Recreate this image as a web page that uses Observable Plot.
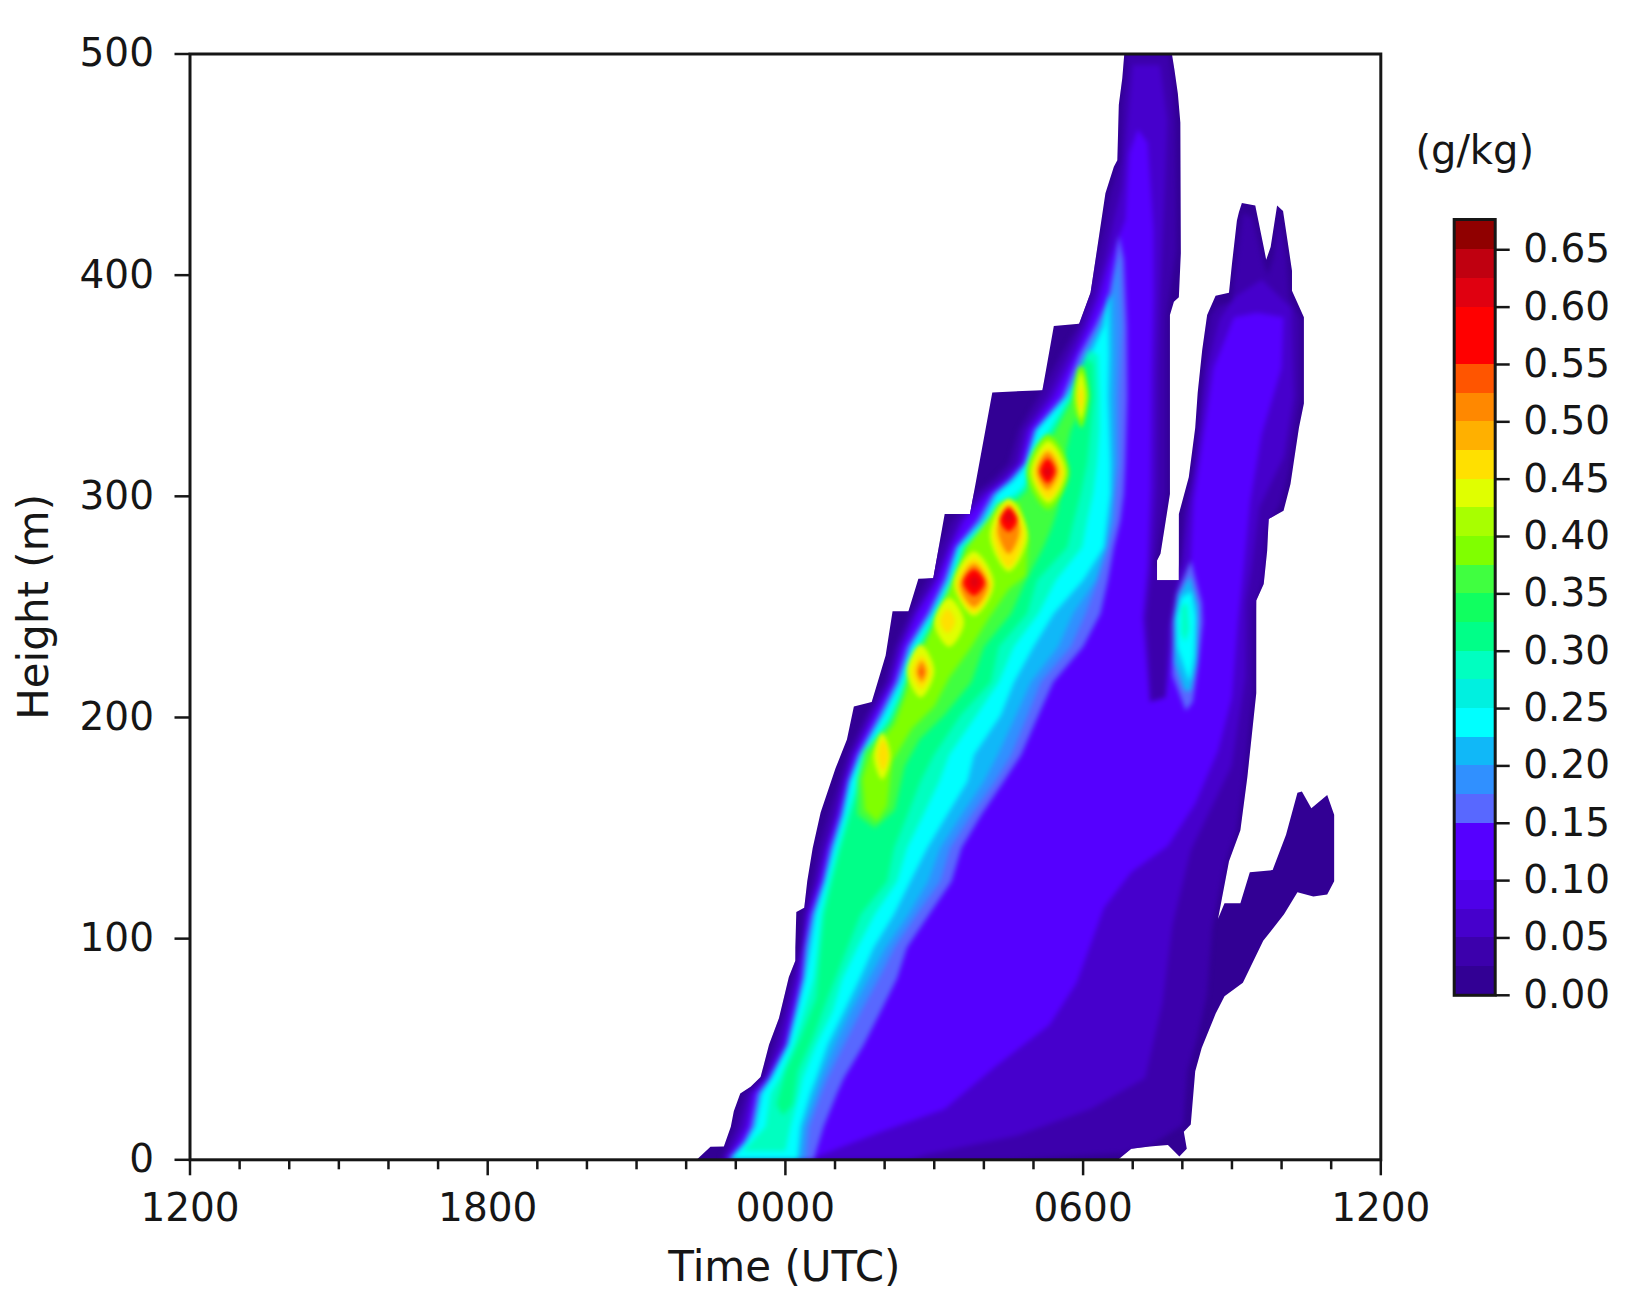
<!DOCTYPE html>
<html><head><meta charset="utf-8">
<script src="https://cdn.jsdelivr.net/npm/d3@7"></script>
<script src="https://cdn.jsdelivr.net/npm/@observablehq/plot@0.6"></script>
<style>
html,body{margin:0;padding:0;background:#fff;overflow:hidden}
#chart{position:relative;width:1637px;height:1301px}
</style></head><body><div id="chart"></div>
<script>
const xMajorTicks=[0,6,12,18,24];
const xMajorLabels=["1200","1800","0000","0600","1200"];
const xMinorTicks=[1,2,3,4,5,7,8,9,10,11,13,14,15,16,17,19,20,21,22,23];
const yTicks=[0,100,200,300,400,500];
const barTicks=[0,.05,.1,.15,.2,.25,.3,.35,.4,.45,.5,.55,.6,.65];
const levels=[0,.025,.05,.075,.1,.125,.15,.175,.2,.225,.25,.275,.3,.325,.35,.375,.4,.425,.45,.475,.5,.525,.55,.575,.6,.625,.65];
const levelColors=["#320094","#3c00ac","#4600cc","#4e00e8","#5500ff","#5500ff","#5868ff","#3090ff","#10b8f8","#00ffff","#00f0e0","#00ffc0","#00ff88","#10ff60","#40ff40","#80ff00","#a8ff00","#e0ff00","#ffe000","#ffb000","#ff8800","#ff5500","#ff0000","#ff0000","#e00010","#c00010","#900000"];

const outer=[[10.21,0],[10.49,5.9],[10.76,6],[10.9,15],[10.96,22],[11.09,30],[11.3,33],[11.5,37.4],[11.67,52],[11.87,64],[12.07,82.6],[12.2,90],[12.2,96],[12.22,112],[12.38,114],[12.44,126],[12.55,141],[12.71,157],[13.01,177],[13.24,190],[13.38,205],[13.74,207],[14.02,228],[14.16,248],[14.48,248],[14.68,262.7],[14.98,263],[15.21,292],[15.72,292],[16.17,347],[17.18,348],[17.41,377],[17.92,378],[18.15,392],[18.45,437],[18.62,449],[18.69,452],[18.72,477],[18.79,489],[18.83,500],[19.79,500],[19.84,493],[19.91,482],[19.96,469],[19.97,410],[19.93,390],[19.83,388],[19.75,382],[19.75,301],[19.56,274],[19.49,271],[19.49,262],[19.93,262],[19.93,292],[20.13,308.6],[20.26,331],[20.31,347],[20.4,366],[20.5,382],[20.67,390.7],[20.94,392],[21,405],[21.1,424.7],[21.14,428.5],[21.2,432.6],[21.47,431.5],[21.64,412.7],[21.69,407],[21.78,412.7],[21.91,431.5],[22.03,429],[22.15,411],[22.21,402],[22.21,393],[22.45,381],[22.45,342],[22.35,331],[22.24,314.6],[22.18,305.6],[22.04,293.5],[21.74,289.8],[21.71,275.5],[21.64,260.4],[21.49,252.9],[21.49,211],[21.4,192],[21.31,173],[21.17,149],[20.94,135],[20.72,109],[20.85,116],[21.17,116],[21.36,130],[21.82,131],[22.09,147],[22.32,166],[22.41,166.5],[22.6,159],[22.92,165],[23.06,156],[23.06,126],[22.92,120],[22.64,119],[22.32,121],[22.05,111],[21.63,99],[21.22,80],[20.85,74],[20.67,66],[20.39,50.6],[20.26,40],[20.17,16],[20.03,12.7],[20.09,5],[19.94,1.5],[19.71,6.7],[19.34,6],[18.97,5],[18.74,0.7],[18.7,0]];
const band025=[[10.7,0],[10.85,8],[10.98,15],[11.18,30],[11.55,37],[11.74,52],[11.95,67],[12.12,82],[12.3,96],[12.36,111],[12.54,126],[12.66,141],[12.86,156],[13.08,171],[13.24,183],[13.62,201],[14,216],[14.2,232],[14.5,247],[14.85,262],[15.1,277],[15.35,289],[15.8,301],[16.2,308],[16.5,315],[16.7,330],[17.1,345],[17.55,364],[17.9,377],[18.15,395],[18.4,420],[18.55,437],[18.75,452],[18.78,477],[18.85,489],[18.89,500],[19.73,500],[19.8,490],[19.86,470],[19.88,411],[19.68,382],[19.68,301],[19.5,274],[19.42,268],[19.98,268],[20.02,292],[20.22,310],[20.33,331],[20.38,347],[20.47,366],[20.57,382],[20.72,386],[21,388],[21.08,405],[21.22,428],[21.42,426],[21.64,405],[21.72,400],[21.84,408],[21.95,425],[22.1,408],[22.15,390],[22.38,380],[22.38,345],[22.28,331],[22.15,312],[22,298],[21.68,284],[21.62,262],[21.43,248],[21.42,211],[21.33,192],[21.25,173],[21.1,149],[20.88,135],[20.6,105],[20.5,75],[20.3,55],[20.1,40],[20.02,16],[19.4,7],[18.8,3],[16.5,0]];
const band050=[[10.75,0],[10.95,8],[11.1,15],[11.28,30],[11.58,37],[11.86,52],[12.03,67],[12.2,82],[12.33,96],[12.42,111],[12.62,126],[12.78,141],[12.99,156],[13.15,171],[13.32,183],[13.7,201],[14.08,216],[14.28,232],[14.58,247],[15,262],[15.26,277],[15.5,289],[15.95,301],[16.35,308],[16.65,315],[16.82,330],[17.28,345],[17.7,364],[18,377],[18.22,390],[18.44,407],[18.62,425],[18.78,440],[18.92,475],[19,495],[19.55,495],[19.7,470],[19.65,440],[19.55,390],[19.5,356],[19.48,304],[19.38,268],[19.27,245],[19.33,226],[19.38,200],[19.66,200],[19.69,226],[19.72,240],[19.98,270],[20.14,298],[20.33,328],[20.5,358],[20.75,380],[21.05,390],[21.6,398],[22.2,385],[22.25,345],[22.05,318],[21.55,295],[21.4,268],[21.28,252],[21.27,218],[20.99,178],[20.17,140],[19.8,106],[19.6,71],[19.25,37],[18.15,23],[16.68,11],[14.84,2.4],[14.5,0]];
const band100=[[10.8,0],[11.05,8],[11.22,15],[11.35,30],[11.62,37],[11.97,52],[12.12,67],[12.28,82],[12.36,96],[12.46,111],[12.68,126],[12.84,141],[13.05,156],[13.21,171],[13.38,183],[13.78,201],[14.15,216],[14.35,232],[14.66,247],[15.06,262],[15.33,277],[15.6,289],[16.07,301],[16.47,308],[16.74,315],[16.91,330],[17.41,345],[17.83,364],[18.1,377],[18.33,390],[18.54,407],[18.85,425],[18.93,455],[19.1,466],[19.3,460],[19.42,420],[19.42,390],[19.38,356],[19.36,304],[19.3,268],[19.2,245],[19.27,226],[19.34,207],[19.66,209],[19.75,226],[19.85,240],[20.16,268],[20.23,298],[20.43,328],[20.63,358],[21.04,381],[21.5,383],[22.04,381],[22,358],[21.6,328],[21.37,298],[21.24,268],[21.12,243],[21,209],[20.72,185],[20.26,161],[19.71,142],[18.97,130],[18.42,114],[17.87,80],[17.32,61],[16.22,42],[15.21,23],[13.93,12.7],[12.64,1.5],[12.6,0]];
const band150=[[10.84,0],[11.15,8],[11.3,15],[11.43,30],[11.67,37],[12.02,52],[12.18,67],[12.33,82],[12.39,96],[12.52,111],[12.75,126],[12.9,141],[13.11,156],[13.26,171],[13.45,183],[13.88,201],[14.22,216],[14.45,232],[14.86,247],[15.19,262],[15.43,277],[15.86,289],[16.17,301],[16.55,308],[16.81,315],[17.01,330],[17.58,345],[17.92,364],[18.24,377],[18.51,390],[18.65,407],[18.72,418],[18.82,407],[18.88,377],[18.89,345],[18.85,315],[18.82,301],[18.75,289],[18.62,277],[18.5,262],[18.35,247],[18,232],[17.4,216],[17.1,201],[16.75,183],[16.4,171],[15.95,156],[15.55,141],[15.35,126],[14.9,111],[14.45,96],[14.25,82],[13.92,67],[13.58,52],[13.18,37],[13.04,30],[12.77,15],[12.57,0]];
const band175=[[10.86,0],[11.18,8],[11.34,15],[11.47,30],[11.69,37],[12.04,52],[12.2,67],[12.36,82],[12.42,96],[12.55,111],[12.77,126],[12.93,141],[13.13,156],[13.28,171],[13.48,183],[13.92,201],[14.26,216],[14.49,232],[14.9,247],[15.23,262],[15.45,277],[15.9,289],[16.2,301],[16.5,307],[16.83,315],[17.03,330],[17.62,345],[18,364],[18.3,377],[18.55,390],[18.68,405],[18.72,410],[18.78,377],[18.72,345],[18.72,315],[18.65,301],[18.62,289],[18.5,277],[18.3,262],[18.05,247],[17.75,232],[17.15,216],[16.88,201],[16.55,183],[16.22,171],[15.75,156],[15.32,141],[15.12,126],[14.65,111],[14.2,96],[13.88,82],[13.52,67],[13.18,52],[12.85,37],[12.72,30],[12.48,15],[12.42,0]];
const band200=[[10.88,0],[11.2,8],[11.37,15],[11.5,30],[11.71,37],[12.05,52],[12.22,67],[12.38,82],[12.46,96],[12.58,111],[12.79,126],[12.95,141],[13.15,156],[13.29,171],[13.5,183],[13.95,201],[14.29,216],[14.52,232],[14.93,247],[15.26,262],[15.47,277],[15.95,289],[16.24,301],[16.55,307],[16.85,315],[17.05,330],[17.65,345],[18.08,364],[18.36,377],[18.48,388],[18.6,392],[18.62,364],[18.61,345],[18.63,315],[18.6,301],[18.55,289],[18.46,277],[18.25,262],[17.8,247],[17.5,232],[16.95,216],[16.65,201],[16.28,183],[16,171],[15.55,156],[15.12,141],[14.88,126],[14.48,111],[14.02,96],[13.68,82],[13.32,67],[13,52],[12.72,37],[12.62,30],[12.38,15],[12.3,0]];
const band225=[[10.89,0],[11.22,8],[11.4,15],[11.53,30],[11.73,37],[12.07,52],[12.24,67],[12.4,82],[12.51,96],[12.61,111],[12.81,126],[12.98,141],[13.18,156],[13.31,171],[13.52,183],[13.99,201],[14.32,216],[14.55,232],[14.96,247],[15.29,262],[15.49,277],[16,289],[16.27,301],[16.6,307],[16.87,315],[17.07,330],[17.68,345],[18.15,364],[18.42,377],[18.5,392],[18.52,364],[18.5,345],[18.55,315],[18.55,301],[18.48,289],[18.42,277],[18,262],[17.41,247],[17,232],[16.61,216],[16.34,201],[15.8,183],[15.67,171],[15.26,156],[14.86,141],[14.52,126],[14.19,111],[13.78,96],[13.5,82],[13.18,67],[12.85,52],[12.62,37],[12.5,30],[12.3,15],[12.24,0]];
const band275=[[11.15,4],[11.6,15],[11.7,30],[11.88,37],[12.17,52],[12.37,67],[12.57,82],[12.65,96],[12.72,111],[12.88,126],[13.06,141],[13.25,156],[13.45,171],[13.6,183],[14.1,201],[14.4,216],[14.65,232],[15.02,247],[15.36,262],[15.56,277],[16.08,289],[16.28,297],[16.63,301],[16.82,305],[16.93,315],[17.3,330],[17.73,345],[18.1,366],[18.3,364],[18.33,345],[18.33,330],[18.28,315],[18.2,301],[18.08,289],[17.98,277],[17.45,262],[17.1,247],[16.6,232],[16.3,216],[15.85,201],[15.3,183],[15.1,171],[14.78,156],[14.45,141],[14.25,126],[13.8,111],[13.45,96],[13.15,82],[12.95,67],[12.62,52],[12.35,37],[12.28,30],[12.1,15],[12,4]];
const band300=[[11.82,25],[12,40],[12.3,55],[12.62,73],[12.71,96],[12.78,111],[12.94,126],[13.11,141],[13.31,156],[13.52,171],[13.65,183],[14.19,201],[14.46,216],[14.72,232],[15.06,247],[15.39,262],[15.6,277],[16.13,289],[16.3,297],[16.65,299],[16.84,303],[16.97,315],[17.4,330],[17.78,345],[18.05,362],[18.2,360],[18.22,345],[18.15,330],[18.08,315],[17.95,301],[17.81,289],[17.68,277],[17.07,262],[16.87,247],[16.3,232],[16.14,216],[15.53,201],[14.99,183],[14.72,171],[14.46,156],[14.19,141],[14.05,126],[13.52,111],[13.25,96],[12.85,73],[12.55,55],[12.25,40],[12.15,25],[11.95,20]];
const band350=[[13.45,156],[13.45,172],[13.6,185],[14.1,197],[14.35,210],[14.5,222],[14.72,232],[15.1,247],[15.4,262],[15.62,277],[16.15,289],[16.35,296],[16.65,298],[16.84,302],[17,315],[17.45,330],[17.8,345],[17.9,358],[18.03,358],[18.1,345],[17.75,330],[17.6,315],[17.5,295],[17.35,285],[17.2,277],[16.85,262],[16.55,247],[16,232],[15.75,216],[15.2,201],[14.7,190],[14.4,178],[14.2,158],[13.8,150]];
const band375=[[13.6,158],[13.55,172],[13.7,183],[14.2,197],[14.42,210],[14.58,224],[14.85,235],[15.12,249],[15.42,265],[15.68,278],[16.13,291],[16.3,297],[16.7,297],[16.9,280],[16.85,264],[16.5,258],[16.1,245],[15.75,232],[15.3,218],[15,205],[14.55,195],[14.15,180],[14.05,160],[13.85,153]];
const sideBlue=[[20.07,203],[19.8,219],[19.8,243],[19.89,256],[20.17,271],[20.39,252],[20.41,243],[20.3,221],[20.21,207]];
const sideSky=[[20.05,212],[19.84,225],[19.84,245],[19.92,255],[20.15,264],[20.32,250],[20.3,225],[20.17,212]];
const sideCyan=[[20.05,222],[19.9,232],[19.88,245],[19.98,254],[20.18,257],[20.27,245],[20.24,228],[20.15,216]];
const sideCore=[[19.98,238],[19.98,250],[20.1,252],[20.14,240],[20.06,234]];

// moist peaks: level, earliest time, latest time, lowest height, highest height
const peakRings=[
[.38,16.86,17.72,294,328],[.38,17.81,18.11,331,359],
[.43,13.78,14.12,172,193],[.43,14.45,15,209,233],[.43,15,15.6,232,254],[.43,15.4,16.2,246,275],[.43,16.12,16.88,266,299],[.43,16.95,17.65,297,325],[.43,17.86,18.05,335,356],
[.46,13.86,14.08,176,190],[.46,14.55,14.92,213,228],[.46,15.12,15.42,238,249],[.46,15.45,16.15,247.5,272],[.46,16.2,16.8,268,297],[.46,17,17.6,299,322],[.46,17.9,18,339,350],
[.51,14.65,14.84,216,225.5],[.51,15.52,16.08,250,269.5],[.51,16.28,16.72,274,296],[.51,17.07,17.5,303,320],
[.53,14.7,14.78,218.5,222.5],
[.56,15.58,16.02,255,267],[.56,16.32,16.68,284,295],[.56,17.13,17.44,306,317],
[.6,15.72,15.9,258.5,264],[.6,16.42,16.58,288,293],[.6,17.2,17.36,309,313]
];

const asRows=(id,level,pts)=>pts.map(([t,h])=>({id,level,t,h}));
const bandList=[["b025",.03,band025],["b050",.06,band050],["b100",.11,band100],["b150",.16,band150],["b175",.18,band175],["b200",.21,band200],["b225",.23,band225],["b275",.28,band275],["b300",.31,band300],["b350",.36,band350],["b375",.38,band375],["sideBlue",.16,sideBlue],["sideSky",.21,sideSky],["sideCyan",.23,sideCyan],["sideCore",.28,sideCore]];
const bandRows=bandList.flatMap(([id,level,pts])=>asRows(id,level,pts));
const peakRows=peakRings.flatMap(([level,t0,t1,h0,h1],i)=>asRows("p"+i,level,[[t0,(h0+h1)/2],[(t0+t1)/2,h1],[t1,(h0+h1)/2],[(t0+t1)/2,h0]]));
const barRows=levels.map((lo,i)=>({lo,hi:i<levels.length-1?levels[i+1]:.6764}));

const ink="#161616";
const colorScale={type:"threshold",domain:levels.slice(1),range:levelColors};
const fontFamily="'DejaVu Sans',sans-serif";

const main=Plot.plot({
  width:1637,height:1301,marginLeft:189.5,marginRight:256.7,marginTop:53.5,marginBottom:141.7,
  style:{fontFamily,background:"#fff",color:ink,overflow:"visible"},
  x:{domain:[0,24],label:null},
  y:{domain:[0,500],label:null},
  color:colorScale,
  marks:[
    Plot.line(asRows("outer",.01,outer),{x:"t",y:"h",z:"id",fill:"level",stroke:"none"}),
    Plot.line(bandRows,{x:"t",y:"h",z:"id",fill:"level",stroke:"none"}),
    Plot.line(peakRows,{x:"t",y:"h",z:"id",fill:"level",stroke:"none",curve:"cardinal-closed",tension:0}),
    Plot.axisX({ticks:xMinorTicks,tickSize:10,tickFormat:()=>"",label:null,strokeWidth:2.5,stroke:ink}),
    Plot.axisX({ticks:xMajorTicks,tickSize:16,tickPadding:17,fontSize:39,label:null,strokeWidth:2.5,stroke:ink,fill:ink,
      tickFormat:d=>xMajorLabels[xMajorTicks.indexOf(d)]}),
    Plot.axisY({ticks:yTicks,tickSize:15,tickPadding:21,fontSize:39,label:null,strokeWidth:2.5,stroke:ink,fill:ink}),
    Plot.frame({stroke:ink,strokeWidth:3}),
    Plot.text(["Time (UTC)"],{frameAnchor:"bottom",dx:-1,dy:121,fontSize:42,fill:ink}),
    Plot.text(["Height (m)"],{frameAnchor:"left",textAnchor:"middle",rotate:-90,dx:-155,dy:0,fontSize:42,fill:ink})
  ]
});

const bar=Plot.plot({
  width:1637,height:1301,marginLeft:1453.7,marginRight:142.3,marginTop:219,marginBottom:306.2,
  style:{fontFamily,background:"transparent",color:ink,position:"absolute",left:"0",top:"0",overflow:"visible"},
  y:{domain:[0,.6764],label:null},
  color:colorScale,
  marks:[
    Plot.rect(barRows,{y1:"lo",y2:"hi",fill:"lo",shapeRendering:"crispEdges"}),
    Plot.axisY({anchor:"right",ticks:barTicks,tickFormat:".2f",tickSize:14,tickPadding:14,fontSize:39,label:null,strokeWidth:2.5,stroke:ink,fill:ink}),
    Plot.frame({stroke:ink,strokeWidth:3}),
    Plot.text(["(g/kg)"],{frameAnchor:"top",dy:-84,fontSize:40,fill:ink})
  ]
});
const host=document.getElementById("chart");
host.append(main,bar);
// the reference's colour bands melt into each other, so soften the inner ones only,
// and keep the blur inside the crisp outer outline
const fields=main.querySelectorAll('g[aria-label="line"]');
const outlinePath=fields[0].querySelector("path");
const svgNS="http://www.w3.org/2000/svg";
const clip=document.createElementNS(svgNS,"clipPath");
clip.setAttribute("id","outline-clip");
const clipShape=document.createElementNS(svgNS,"path");
clipShape.setAttribute("d",outlinePath.getAttribute("d"));
clip.append(clipShape);
main.prepend(clip);
fields[1].style.filter="blur(2.6px)";
fields[1].setAttribute("clip-path","url(#outline-clip)");
fields[2].style.filter="blur(2.2px)";
</script></body></html>
